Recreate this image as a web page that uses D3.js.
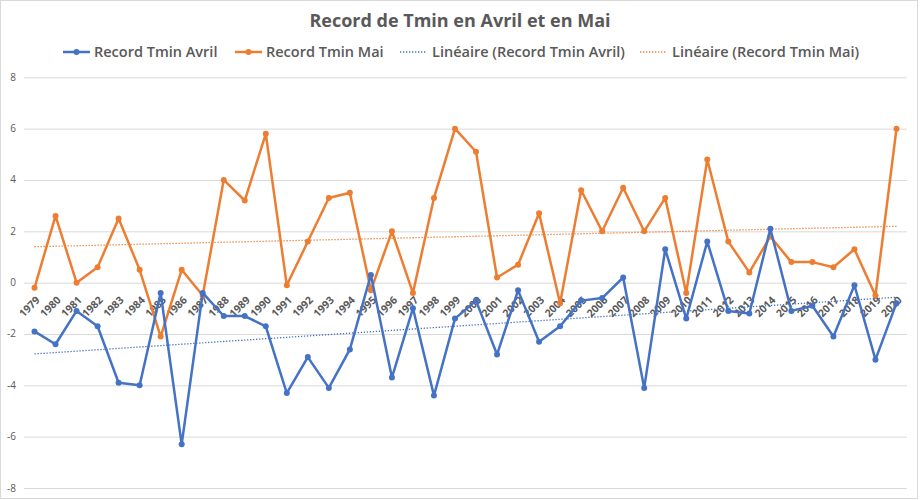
<!DOCTYPE html>
<html>
<head>
<meta charset="utf-8">
<script src="https://cdn.jsdelivr.net/npm/d3@7"></script>
<style>
  body { margin: 0; background: #fff; }
  svg { font-family: "Open Sans", "Noto Sans", sans-serif; }
  .grid line { stroke: #d9d9d9; stroke-width: 1; }
  .grid path { display: none; }
  .ylab text, .xlab text { fill: #595959; }
</style>
</head>
<body>
<svg width="920" height="500"></svg>
<script>
// years
years = d3.range(1979, 2021).map(String);

// Record Tmin Avril
avril = [-1.9, -2.4, -1.1, -1.7, -3.9, -4.0, -0.4, -6.3, -0.4, -1.3,
         -1.3, -1.7, -4.3, -2.9, -4.1, -2.6, 0.3, -3.7, -1.0, -4.4,
         -1.4, -0.7, -2.8, -0.3, -2.3, -1.7, -0.7, -0.6, 0.2, -4.1,
         1.3, -1.4, 1.6, -1.1, -1.2, 2.1, -1.1, -0.9, -2.1, -0.1,
         -3.0, -0.8];

// Record Tmin Mai
mai = [-0.2, 2.6, 0.0, 0.6, 2.5, 0.5, -2.1, 0.5, -0.5, 4.0,
       3.2, 5.8, -0.1, 1.6, 3.3, 3.5, -0.3, 2.0, -0.4, 3.3,
       6.0, 5.1, 0.2, 0.7, 2.7, -0.8, 3.6, 2.0, 3.7, 2.0,
       3.3, -0.4, 4.8, 1.6, 0.4, 1.8, 0.8, 0.8, 0.6, 1.3,
       -0.5, 6.0];

yTicks = [-8, -6, -4, -2, 0, 2, 4, 6, 8];

BLUE = '#4472C4';
ORANGE = '#ED7D31';

svg = d3.select('svg');

// cadre du graphique
svg.append('rect')
    .attr('x', 0.5).attr('y', 0.5)
    .attr('width', 917).attr('height', 498)
    .attr('fill', 'none')
    .attr('stroke', '#d9d9d9');

xScale = d3.scalePoint()
    .domain(years)
    .range([24, 907])
    .padding(0.5);

yScale = d3.scaleLinear()
    .domain([-8, 8])
    .range([488, 77.3]);

// grid
svg.append('g')
    .attr('class', 'grid')
    .attr('transform', 'translate(24,0)')
    .call(d3.axisLeft(yScale).tickValues(yTicks).tickSize(-883).tickFormat(''));

// y labels
svg.append('g')
    .attr('class', 'ylab')
    .selectAll('text')
    .data(yTicks)
    .enter()
    .append('text')
    .attr('x', 16)
    .attr('y', (d) => yScale(d) + 3.5)
    .attr('text-anchor', 'end')
    .attr('font-size', 10)
    .text((d) => d);

// x labels (axe à 0)
svg.append('g')
    .attr('class', 'xlab')
    .selectAll('text')
    .data(years)
    .enter()
    .append('text')
    .attr('transform', (d) => `translate(${xScale(d) + 6}, ${yScale(0) + 18}) rotate(-45)`)
    .attr('text-anchor', 'end')
    .attr('font-size', 10.5)
    .attr('font-weight', 700)
    .text((d) => d);

// trendlines (moindres carrés)
trend = (vals) => {
    n = vals.length;
    xs = d3.range(1, n + 1);
    mx = d3.mean(xs);
    my = d3.mean(vals);
    num = d3.sum(xs, (x, i) => (x - mx) * (vals[i] - my));
    den = d3.sum(xs, (x) => (x - mx) * (x - mx));
    b = num / den;
    a = my - b * mx;
    return [a + b * 1, a + b * n];
};

function drawTrend(vals, color) {
    t = trend(vals);
    svg.append('line')
        .attr('x1', xScale(years[0]))
        .attr('y1', yScale(t[0]))
        .attr('x2', xScale(years[years.length - 1]))
        .attr('y2', yScale(t[1]))
        .attr('stroke', color)
        .attr('stroke-width', 1.3)
        .attr('stroke-dasharray', '1.3,1.7');
}

drawTrend(avril, BLUE);
drawTrend(mai, ORANGE);

line = d3.line()
    .x((d, i) => xScale(years[i]))
    .y((d) => yScale(d));

function drawSeries(vals, color) {
    svg.append('path')
        .datum(vals)
        .attr('fill', 'none')
        .attr('stroke', color)
        .attr('stroke-width', 2.5)
        .attr('stroke-linejoin', 'round')
        .attr('d', line);

    svg.append('g')
        .selectAll('circle')
        .data(vals)
        .enter()
        .append('circle')
        .attr('cx', (d, i) => xScale(years[i]))
        .attr('cy', (d) => yScale(d))
        .attr('r', 3)
        .attr('fill', color);
}

drawSeries(mai, ORANGE);
drawSeries(avril, BLUE);

// title
svg.append('text')
    .attr('x', 460)
    .attr('y', 27)
    .attr('text-anchor', 'middle')
    .attr('font-size', 18)
    .attr('font-weight', 'bold')
    .attr('fill', '#595959')
    .text('Record de Tmin en Avril et en Mai');

// legend
legendItems = [
    { label: 'Record Tmin Avril', color: BLUE, dotted: false, x: 63 },
    { label: 'Record Tmin Mai', color: ORANGE, dotted: false, x: 235 },
    { label: 'Linéaire (Record Tmin Avril)', color: BLUE, dotted: true, x: 400 },
    { label: 'Linéaire (Record Tmin Mai)', color: ORANGE, dotted: true, x: 640 }
];

lg = svg.append('g')
    .selectAll('g')
    .data(legendItems)
    .enter()
    .append('g')
    .attr('transform', (d) => `translate(${d.x}, 52)`);

lg.append('line')
    .attr('x1', 0).attr('x2', 27)
    .attr('stroke', (d) => d.color)
    .attr('stroke-width', (d) => d.dotted ? 1.3 : 2.5)
    .attr('stroke-dasharray', (d) => d.dotted ? '1.3,1.7' : null);

lg.filter((d) => !d.dotted)
    .append('circle')
    .attr('cx', 13.5)
    .attr('r', 3)
    .attr('fill', (d) => d.color);

lg.append('text')
    .attr('x', (d) => d.dotted ? 32 : 31)
    .attr('y', 5)
    .attr('font-size', 14.5)
    .attr('font-weight', 600)
    .attr('fill', '#595959')
    .text((d) => d.label);
</script>
</body>
</html>
